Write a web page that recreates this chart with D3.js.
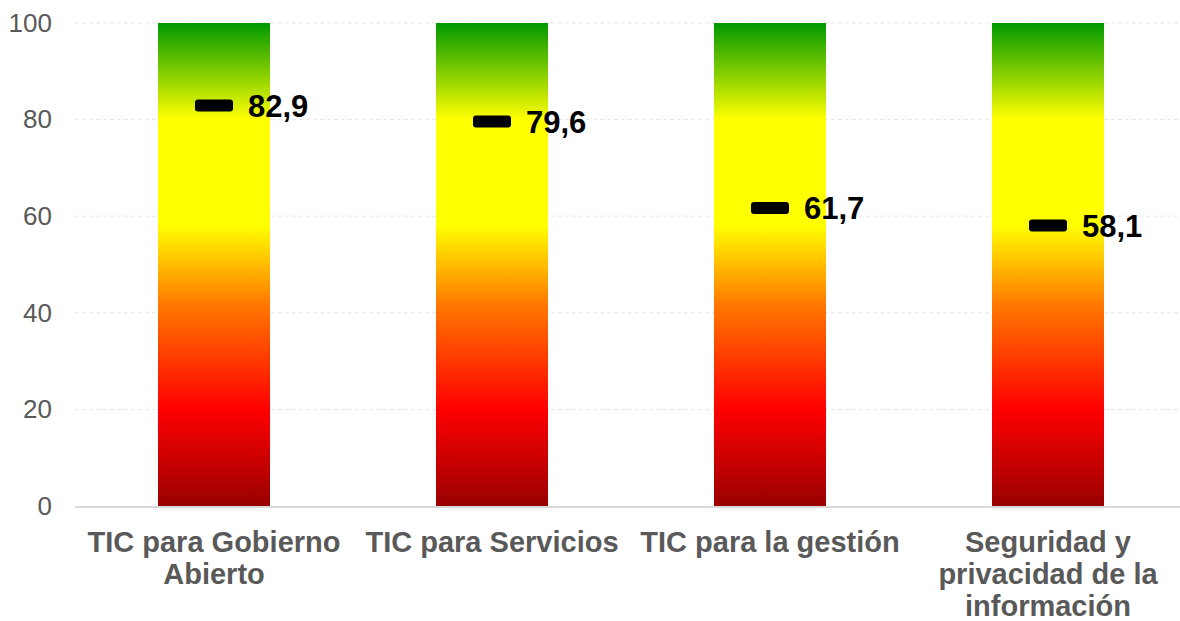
<!DOCTYPE html>
<html>
<head>
<meta charset="utf-8">
<script src="https://cdn.jsdelivr.net/npm/d3@7"></script>
<style>
  body { margin: 0; background: #fff; }
  svg { display: block; font-family: Arial, "Liberation Sans", sans-serif; }
</style>
</head>
<body>
<div id="chart"></div>
<script>
const categories = ['TIC para Gobierno Abierto', 'TIC para Servicios',
  'TIC para la gestión', 'Seguridad y privacidad de la información'];
const values = [82.9, 79.6, 61.7, 58.1];
const yTicks = [0, 20, 40, 60, 80, 100];

const width = 1180, height = 621;
const margin = {top: 23, right: 0, bottom: 115, left: 75};

const svg = d3.select('#chart').append('svg')
    .attr('width', width)
    .attr('height', height);

const x = d3.scaleBand()
    .domain(categories)
    .range([margin.left, 1187]);

const y = d3.scaleLinear()
    .domain([0, 100])
    .range([height - margin.bottom, margin.top]);

const barWidth = x.bandwidth() * 0.403;

// Vertical colour gradient shared by every bar, tied to the y scale
const grad = svg.append('defs').append('linearGradient')
    .attr('id', 'traffic')
    .attr('gradientUnits', 'userSpaceOnUse')
    .attr('x1', 0).attr('x2', 0)
    .attr('y1', y(0)).attr('y2', y(100));

[[0, '#990000'], [0.2, '#ff0000'], [0.42, '#ff7a00'], [0.58, '#ffff00'],
 [0.8, '#ffff00'], [1, '#009900']].forEach(s => {
  grad.append('stop').attr('offset', s[0]).attr('stop-color', s[1]);
});

// gridlines
svg.append('g')
  .selectAll('line')
  .data(yTicks.filter(d => d > 0))
  .join('line')
    .attr('x1', margin.left).attr('x2', width)
    .attr('y1', d => y(d)).attr('y2', d => y(d))
    .attr('stroke', '#e6e6e6')
    .attr('stroke-dasharray', '4,3');

// y axis labels
const yAxis = svg.append('g')
    .attr('transform', 'translate(' + margin.left + ',0)')
    .call(d3.axisLeft(y).tickValues(yTicks).tickSize(0).tickPadding(23));
yAxis.select('.domain').remove();
yAxis.selectAll('text')
    .attr('fill', '#595959')
    .style('font-size', '26px')
    .style('font-family', 'Arial, "Liberation Sans", sans-serif');

// bars
svg.append('g')
  .selectAll('rect')
  .data(categories)
  .join('rect')
    .attr('x', d => x(d) + x.bandwidth() / 2 - barWidth / 2)
    .attr('width', barWidth)
    .attr('y', y(100))
    .attr('height', y(0) - y(100))
    .attr('fill', 'url(#traffic)');

// baseline
svg.append('line')
    .attr('x1', margin.left).attr('x2', width)
    .attr('y1', y(0) + 1).attr('y2', y(0) + 1)
    .attr('stroke', '#d9d9d9')
    .attr('stroke-width', 2);

// markers + value labels
const marks = svg.append('g')
  .selectAll('g')
  .data(categories.map((c, i) => ({c: c, v: values[i]})))
  .join('g')
    .attr('transform', d => 'translate(' + (x(d.c) + x.bandwidth() / 2) + ',' + y(d.v) + ')');

marks.append('rect')
    .attr('x', -19).attr('y', -6)
    .attr('width', 38).attr('height', 12)
    .attr('rx', 3)
    .attr('fill', '#000');

marks.append('text')
    .attr('x', 34)
    .attr('dy', '0.36em')
    .attr('font-weight', 'bold')
    .attr('font-size', '31px')
    .attr('fill', '#000')
    .text(d => d3.format('.1f')(d.v).replace('.', ','));

// category labels, wrapped to the band width
const catLabels = svg.append('g')
  .selectAll('text')
  .data(categories)
  .join('text')
    .attr('x', d => x(d) + x.bandwidth() / 2)
    .attr('y', 552)
    .attr('text-anchor', 'middle')
    .attr('font-weight', 'bold')
    .attr('font-size', '29px')
    .attr('fill', '#595959');

catLabels.each(function(d) {
  const t = d3.select(this);
  const words = d.split(' ');
  let line = [];
  let tspan = t.append('tspan').attr('x', t.attr('x')).attr('dy', 0);
  words.forEach(w => {
    line.push(w);
    tspan.text(line.join(' '));
    if (tspan.node().getComputedTextLength() > 270 && line.length > 1) {
      line.pop();
      tspan.text(line.join(' '));
      line = [w];
      tspan = t.append('tspan').attr('x', t.attr('x')).attr('dy', 32).text(w);
    }
  });
});
</script>
</body>
</html>
